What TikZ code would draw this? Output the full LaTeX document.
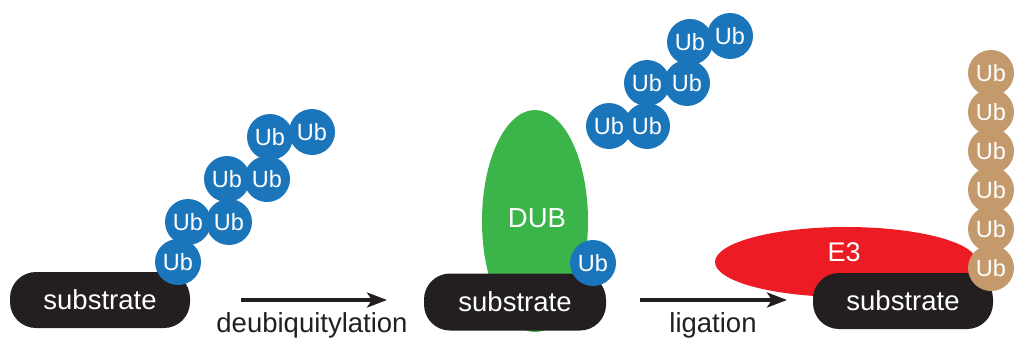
\documentclass[tikz,border=0pt]{standalone}
\usepackage{fontspec}
\setmainfont{Liberation Sans}
\usetikzlibrary{arrows.meta,shapes.geometric}
\definecolor{ubblue}{HTML}{1B75BB}
\definecolor{dubgreen}{HTML}{3BB54A}
\definecolor{ethree}{HTML}{ED1C24}
\definecolor{ubtan}{HTML}{C49A6C}
\definecolor{subblack}{HTML}{231F20}
\begin{document}
\begin{tikzpicture}[x=1pt,y=-1pt,
  sub/.style={fill=subblack, rounded corners=26pt, minimum width=180pt, minimum height=56pt,
    text=white, inner sep=0pt, font=\fontsize{27.5}{30}\selectfont},
  ub/.style={circle, fill=ubblue, minimum size=46pt, inner sep=0pt, text=white,
    font=\fontsize{23.5}{24}\selectfont},
  ubt/.style={ub, fill=ubtan},
  lbl/.style={anchor=base, text=subblack, inner sep=0pt, font=\fontsize{27.5}{30}\selectfont},
  arr/.style={line width=4pt, subblack, -{Stealth[length=20pt,width=15pt,inset=5pt]}}
]
\useasboundingbox (0,0) rectangle (1019,348);

% ---------- left panel ----------
\node[sub] (s1) at (100,300) {substrate};
\node[ub] (a1) at (178,262) {Ub};
\node[ub] (a2) at (188,222) {Ub};
\node[ub] (a3) at (229,222) {Ub};
\node[ub] (a4) at (227,179) {Ub};
\node[ub] (a5) at (267,179) {Ub};
\node[ub] (a6) at (270,137) {Ub};
\node[ub] (a7) at (312,132) {Ub};

\coordinate (r1s) at (241,300);
\coordinate (r1e) at (387,300);
\draw[arr] (r1s) -- (r1e);
\node[lbl] (t1) at (312,332) {deubiquitylation};

% ---------- middle panel ----------
\node[ellipse, fill=dubgreen, minimum width=106pt, minimum height=222pt, inner sep=0pt,
  draw=none] (dub) at (535,221) {};
\node[text=white, font=\fontsize{27.5}{30}\selectfont, inner sep=0pt] (dubt) at (537,218) {DUB};
\node[sub, minimum width=182pt, minimum height=57pt] (s2) at (515,302) {substrate};
\node[ub] (b0) at (593,263) {Ub};
\node[ub] (b1) at (609,126) {Ub};
\node[ub] (b2) at (647,126) {Ub};
\node[ub] (b3) at (647,83) {Ub};
\node[ub] (b4) at (687,83) {Ub};
\node[ub] (b5) at (690,42) {Ub};
\node[ub] (b6) at (730,36) {Ub};

\coordinate (r2s) at (640,300);
\coordinate (r2e) at (787,300);
\draw[arr] (r2s) -- (r2e);
\node[lbl] (t2) at (713,332) {ligation};

% ---------- right panel ----------
\node[ellipse, fill=ethree, minimum width=262pt, minimum height=70pt, inner sep=0pt] (e3) at (846,262) {};
\node[text=white, font=\fontsize{27}{30}\selectfont, inner sep=0pt] (e3t) at (844,252) {E3};
\node[sub] (s3) at (903,301) {substrate};
\node[ubt] (c1) at (991,73) {Ub};
\node[ubt] (c2) at (991,112) {Ub};
\node[ubt] (c3) at (991,151) {Ub};
\node[ubt] (c4) at (991,190) {Ub};
\node[ubt] (c5) at (991,229) {Ub};
\node[ubt] (c6) at (991,268) {Ub};
\end{tikzpicture}
\end{document}
